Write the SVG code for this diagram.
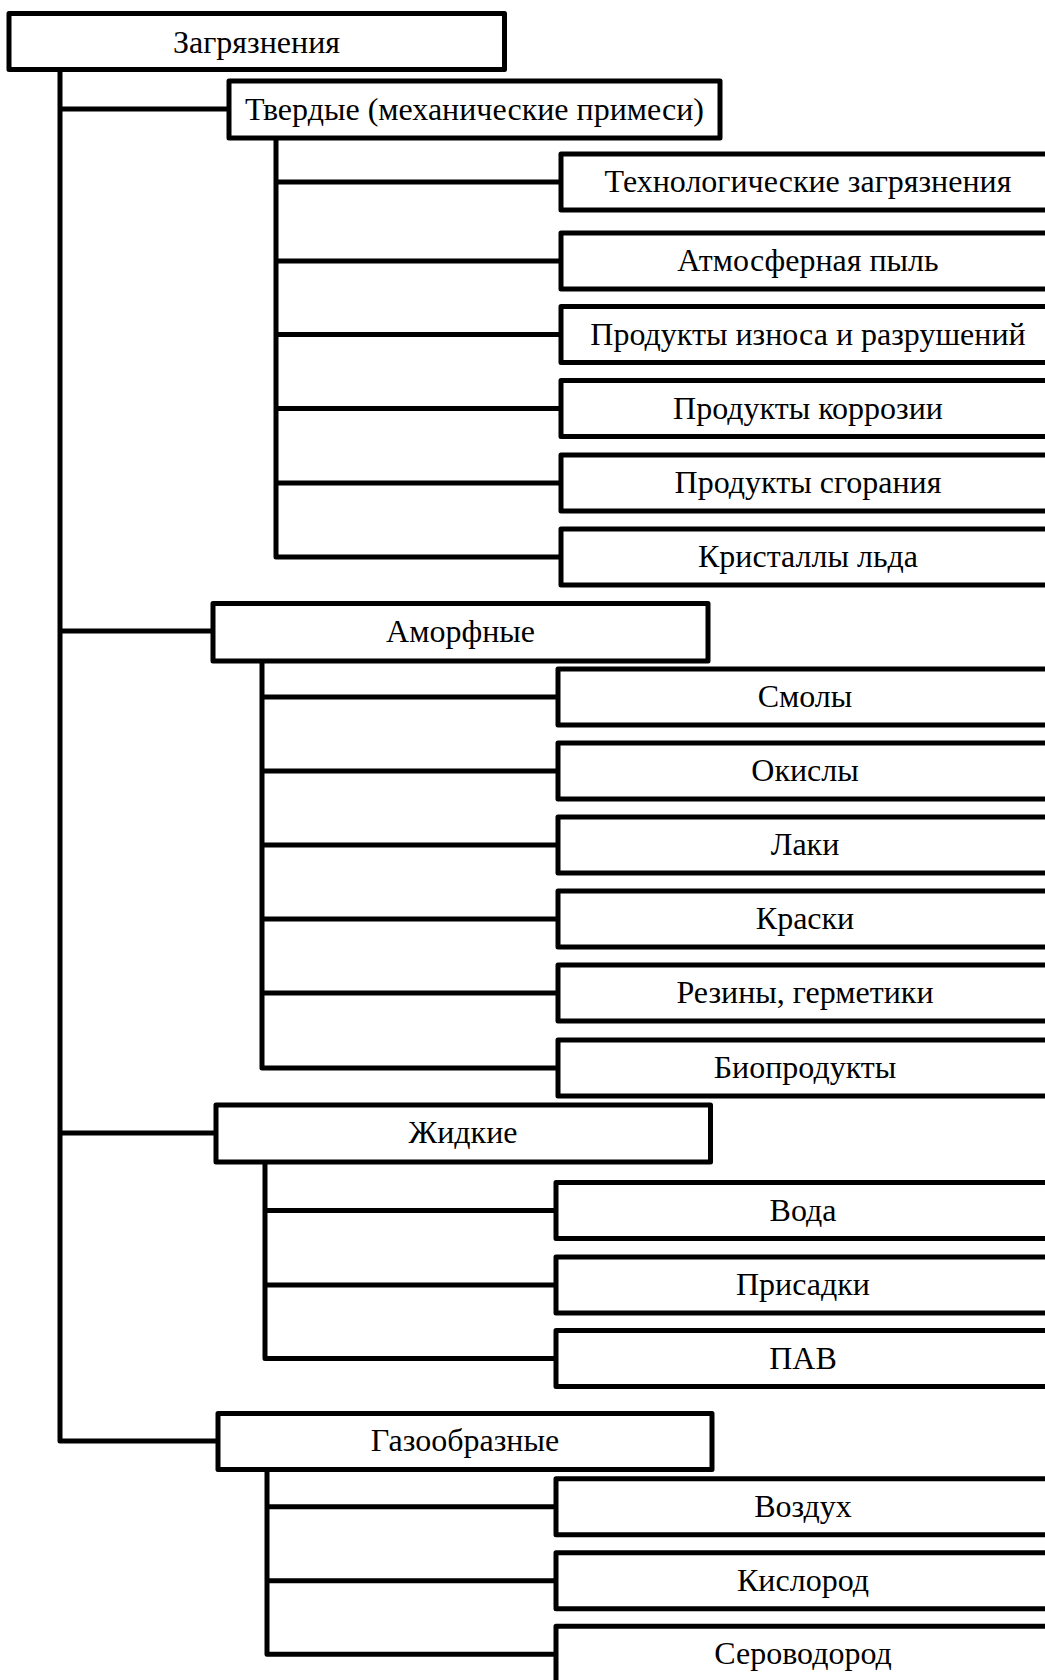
<svg xmlns="http://www.w3.org/2000/svg" width="1045" height="1680" viewBox="0 0 1045 1680">
<style>
.box{fill:#fff;stroke:#000;stroke-width:5;stroke-linejoin:round}
.ln{fill:none;stroke:#000;stroke-width:5;stroke-linejoin:round;stroke-linecap:square}
text{font-family:"Liberation Serif","Times New Roman",serif;font-size:32px;fill:#000;text-anchor:middle}
</style>
<rect width="1045" height="1680" fill="#fff"/>
<g id="connectors">
<path class="ln" d="M60 70 V1441 H218 M60 109 H229 M60 631 H213 M60 1133 H216"/>
<path class="ln" d="M276 138 V557 H561 M276 182 H561 M276 261 H561 M276 334.5 H561 M276 408.5 H561 M276 483 H561"/>
<path class="ln" d="M262 661 V1068 H558 M262 697 H558 M262 771 H558 M262 845 H558 M262 919 H558 M262 993 H558"/>
<path class="ln" d="M265 1162 V1358.5 H556 M265 1210.5 H556 M265 1285 H556"/>
<path class="ln" d="M267 1469.5 V1654.3 H556 M267 1506.7 H556 M267 1580.7 H556"/>
</g>
<g id="root"><rect class="box" x="9" y="13.5" width="495.5" height="56"/><text x="256.5" y="53">Загрязнения</text></g>
<g id="tverdye"><rect class="box" x="229" y="81" width="491" height="57"/><text x="474.5" y="120">Твердые (механические примеси)</text></g>
<g id="t1"><rect class="box" x="561" y="154" width="500" height="56"/><text x="808" y="192">Технологические загрязнения</text></g>
<g id="t2"><rect class="box" x="561" y="233" width="500" height="56"/><text x="808" y="271">Атмосферная пыль</text></g>
<g id="t3"><rect class="box" x="561" y="306.5" width="500" height="56"/><text x="808" y="344.5">Продукты износа и разрушений</text></g>
<g id="t4"><rect class="box" x="561" y="380.5" width="500" height="56"/><text x="808" y="418.5">Продукты коррозии</text></g>
<g id="t5"><rect class="box" x="561" y="455" width="500" height="56"/><text x="808" y="493">Продукты сгорания</text></g>
<g id="t6"><rect class="box" x="561" y="529" width="500" height="56"/><text x="808" y="567">Кристаллы льда</text></g>
<g id="amorfnye"><rect class="box" x="213" y="603.5" width="495" height="57.5"/><text x="460.5" y="642">Аморфные</text></g>
<g id="a1"><rect class="box" x="558" y="669" width="500" height="56"/><text x="805" y="707">Смолы</text></g>
<g id="a2"><rect class="box" x="558" y="743" width="500" height="56"/><text x="805" y="781">Окислы</text></g>
<g id="a3"><rect class="box" x="558" y="817" width="500" height="56"/><text x="805" y="855">Лаки</text></g>
<g id="a4"><rect class="box" x="558" y="891" width="500" height="56"/><text x="805" y="929">Краски</text></g>
<g id="a5"><rect class="box" x="558" y="965" width="500" height="56"/><text x="805" y="1003">Резины, герметики</text></g>
<g id="a6"><rect class="box" x="558" y="1040" width="500" height="56"/><text x="805" y="1078">Биопродукты</text></g>
<g id="zhidkie"><rect class="box" x="216" y="1105" width="494.5" height="57"/><text x="463" y="1143">Жидкие</text></g>
<g id="z1"><rect class="box" x="556" y="1182.5" width="500" height="56"/><text x="803" y="1220.5">Вода</text></g>
<g id="z2"><rect class="box" x="556" y="1257" width="500" height="56"/><text x="803" y="1295">Присадки</text></g>
<g id="z3"><rect class="box" x="556" y="1330.5" width="500" height="56"/><text x="803" y="1368.5">ПАВ</text></g>
<g id="gazoobraznye"><rect class="box" x="218" y="1413.5" width="494" height="56"/><text x="465" y="1451">Газообразные</text></g>
<g id="g1"><rect class="box" x="556" y="1478.7" width="500" height="56"/><text x="803" y="1516.7">Воздух</text></g>
<g id="g2"><rect class="box" x="556" y="1552.7" width="500" height="56"/><text x="803" y="1590.7">Кислород</text></g>
<g id="g3"><rect class="box" x="556" y="1626.3" width="500" height="60"/><text x="803" y="1664.3">Сероводород</text></g>
</svg>
